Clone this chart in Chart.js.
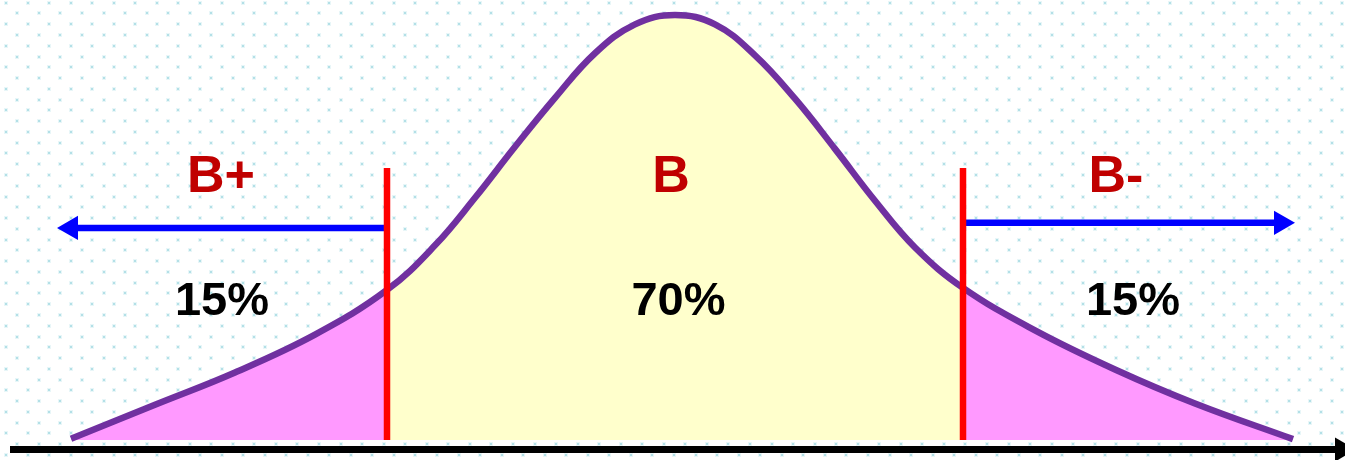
<!DOCTYPE html>
<html>
<head>
<meta charset="utf-8">
<title>B grade distribution</title>
<script src="https://cdn.jsdelivr.net/npm/chart.js@4.4.1/dist/chart.umd.min.js"></script>
<style>
  html, body { margin: 0; padding: 0; background: #fff; }
  canvas { display: block; }
</style>
</head>
<body>
<canvas id="bell" width="1345" height="460"></canvas>
<script>
      // bell curve: position (z) and height (% of peak)
      const curveZ = [-3.02, -2.6, -2.2, -1.8, -1.44, -1.2, -1.0, -0.8, -0.6, -0.4, -0.2, 0,
        0.2, 0.4, 0.6, 0.8, 1.0, 1.2, 1.44, 1.8, 2.2, 2.6, 3.09];
      const curveH = [0.3, 8.3, 15.9, 24.8, 35.3, 45.8, 57, 69, 80.5, 91, 97.8, 100,
        97.8, 90.5, 80.3, 68.5, 56.3, 45.3, 35.8, 25.8, 16.6, 8.6, 0.2];

      // grade cut points and band labels
      const cuts = [-1.44, 1.44];
      const cutTop = 64;
      const grades = ["B+", "B", "B-"];
      const shares = ["15%", "70%", "15%"];

      // where things sit (in chart units)
      const gradeX = [-2.27, -0.02, 2.205];
      const shareX = [-2.265, 0.0175, 2.29];
      const gradeY = 58.35;
      const shareY = 29.4;
      const arrowY = [49.9, 51.1];
      const arrowEnds = [-3.02, 3.03];
      const axisY = -2.24;
      const axisEnds = [-3.325, 3.335];

      const pts = curveZ.map((z, i) => ({ x: z, y: curveH[i] }));
      const leftTail = pts.filter((p) => p.x <= cuts[0]);
      const middle = pts.filter((p) => p.x >= cuts[0] && p.x <= cuts[1]);
      const rightTail = pts.filter((p) => p.x >= cuts[1]);

      const PURPLE = "#7030a0";
      const PINK = "#ff99ff";
      const YELLOW = "#ffffcc";
      const RED = "#ff0000";
      const BLUE = "#0000ff";

      function area(data, color) {
        return {
          data: data,
          fill: "origin",
          backgroundColor: color,
          borderColor: "transparent",
          borderWidth: 0,
          pointRadius: 0,
          tension: 0.4,
          order: 10,
        };
      }

      function arrow(data, color, width, rotation, order) {
        return {
          data: data,
          borderColor: color,
          borderWidth: width,
          borderCapStyle: "butt",
          pointRadius: [0, 14],
          pointStyle: "triangle",
          pointRotation: rotation,
          pointBackgroundColor: color,
          pointBorderWidth: 0,
          fill: false,
          order: order,
        };
      }

      //BACKGROUND DOTS
      const dotsPlugin = {
        id: "dots",
        beforeDraw(chart) {
          const { ctx, width, height } = chart;
          ctx.save();
          ctx.fillStyle = "#ffffff";
          ctx.fillRect(0, 0, width, height);
          let row = 0;
          for (let yy = 2.7; yy < height; yy += 10.77, row++) {
            for (let xx = row % 2 ? 17.3 : 6; xx < width; xx += 21.55) {
              const px = Math.round(xx);
              const py = Math.round(yy);
              ctx.fillStyle = "#e8f6f8";
              ctx.fillRect(px - 2, py - 2, 4, 4);
              ctx.fillStyle = "#b3e0e7";
              ctx.fillRect(px - 1, py - 1, 2, 2);
            }
          }
          ctx.restore();
        },
      };

      //LABELS
      const labelsPlugin = {
        id: "gradeLabels",
        afterDatasetsDraw(chart) {
          const { ctx } = chart;
          const x = chart.scales.x;
          const y = chart.scales.y;
          ctx.save();
          ctx.textAlign = "center";
          ctx.textBaseline = "alphabetic";
          ctx.font = 'bold 52px "Liberation Sans", Arial, sans-serif';
          ctx.fillStyle = "#c00000";
          grades.forEach((g, i) => {
            ctx.fillText(g, x.getPixelForValue(gradeX[i]), y.getPixelForValue(gradeY));
          });
          ctx.font = 'bold 47px "Liberation Sans", Arial, sans-serif';
          ctx.fillStyle = "#000000";
          shares.forEach((s, i) => {
            ctx.fillText(s, x.getPixelForValue(shareX[i]), y.getPixelForValue(shareY));
          });
          ctx.restore();
        },
      };

      const ctx = document.getElementById("bell").getContext("2d");

      new Chart(ctx, {
        type: "line",
        data: {
          datasets: [
            area(leftTail, PINK),
            area(middle, YELLOW),
            area(rightTail, PINK),
            {
              data: pts,
              borderColor: PURPLE,
              borderWidth: 6.5,
              borderCapStyle: "butt",
              pointRadius: 0,
              fill: false,
              tension: 0.4,
              order: 5,
            },
            {
              data: [{ x: cuts[0], y: 0 }, { x: cuts[0], y: cutTop }],
              borderColor: RED,
              borderWidth: 6.5,
              pointRadius: 0,
              fill: false,
              order: 2,
            },
            {
              data: [{ x: cuts[1], y: 0 }, { x: cuts[1], y: cutTop }],
              borderColor: RED,
              borderWidth: 6.5,
              pointRadius: 0,
              fill: false,
              order: 2,
            },
            arrow([{ x: cuts[0], y: arrowY[0] }, { x: arrowEnds[0], y: arrowY[0] }], BLUE, 6.5, -90, 3),
            arrow([{ x: cuts[1], y: arrowY[1] }, { x: arrowEnds[1], y: arrowY[1] }], BLUE, 6.5, 90, 3),
            arrow([{ x: axisEnds[0], y: axisY }, { x: axisEnds[1], y: axisY }], "#000000", 7, 90, 1),
          ],
        },
        options: {
          responsive: false,
          animation: false,
          events: [],
          layout: { padding: 0, autoPadding: false },
          plugins: {
            legend: { display: false },
            tooltip: { enabled: false },
          },
          scales: {
            x: { type: "linear", min: -3.375, max: 3.35, display: false },
            y: { type: "linear", min: -4.706, max: 103.53, display: false },
          },
        },
        plugins: [dotsPlugin, labelsPlugin],
      });
</script>
</body>
</html>
